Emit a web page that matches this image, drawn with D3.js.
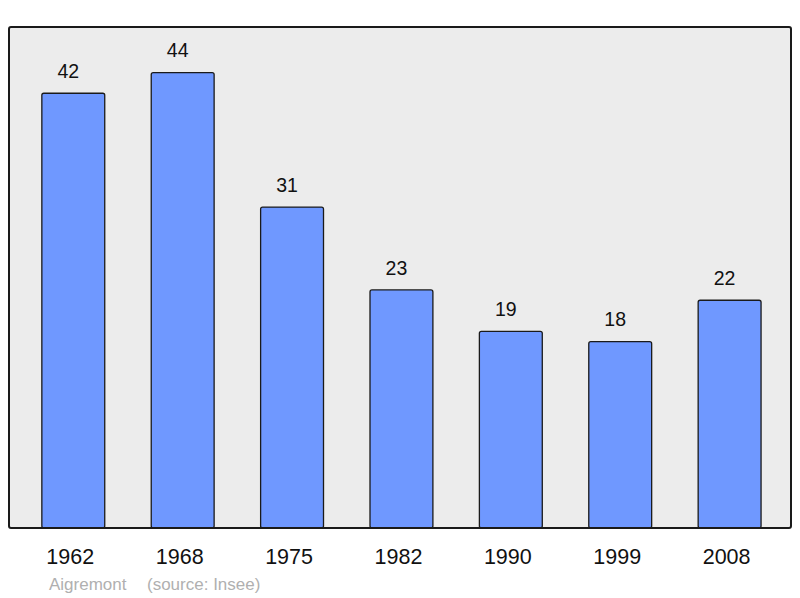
<!DOCTYPE html>
<html>
<head>
<meta charset="utf-8">
<script src="https://cdn.jsdelivr.net/npm/d3@7"></script>
<style>
  body { margin: 0; background: #fff; }
  text { font-family: "Liberation Sans", Arial, sans-serif; }
</style>
</head>
<body>
<div id="chart"></div>
<script>
var years = ['1962', '1968', '1975', '1982', '1990', '1999', '2008'];
var population = [42, 44, 31, 23, 19, 18, 22];
var commune = 'Aigremont';
var source = '(source: Insee)';

var width = 800,
	height = 598,
	frame = { left: 9, top: 27, right: 791, bottom: 528 };

var svg = d3.select('#chart').append('svg')
	.attr('width', width)
	.attr('height', height);

var xScale = d3.scaleBand()
	.domain(years)
	.range([18.6, 784.3])
	.paddingInner(0.425)
	.paddingOuter(0.2125);

var yScale = d3.scaleLinear()
	.domain([0, d3.max(population) * 1.1])
	.range([frame.bottom, frame.top]);

// grey plot area
svg.append('rect')
	.attr('x', frame.left)
	.attr('y', frame.top)
	.attr('width', frame.right - frame.left)
	.attr('height', frame.bottom - frame.top)
	.attr('rx', 2)
	.attr('fill', '#ececec');

var data = years.map(function(y, i) { return { year: y, value: population[i] }; });

svg.selectAll('rect.bar').data(data)
	.enter().append('rect')
	.attr('class', 'bar')
	.attr('x', (d) => xScale(d.year))
	.attr('y', (d) => yScale(d.value))
	.attr('width', xScale.bandwidth())
	.attr('height', (d) => yScale(0) - yScale(d.value))
	.attr('rx', 2)
	.attr('fill', '#6f98ff')
	.attr('stroke', '#1a1a1a')
	.attr('stroke-width', 1.3);

// value labels sit a little left of the bar centre in the original
svg.selectAll('text.val').data(data)
	.enter().append('text')
	.attr('class', 'val')
	.attr('x', (d) => xScale(d.year) + xScale.bandwidth() / 2 - 5)
	.attr('y', (d) => yScale(d.value) - 15.3)
	.attr('text-anchor', 'middle')
	.attr('font-size', 19.5)
	.attr('fill', '#111')
	.text((d) => d.value);

// frame on top of bars
svg.append('rect')
	.attr('x', frame.left)
	.attr('y', frame.top)
	.attr('width', frame.right - frame.left)
	.attr('height', frame.bottom - frame.top)
	.attr('rx', 2)
	.attr('fill', 'none')
	.attr('stroke', '#1a1a1a')
	.attr('stroke-width', 2);

var xAxis = d3.axisBottom(xScale).tickSize(0).tickPadding(0);
var xg = svg.append('g')
	.attr('transform', 'translate(-3,' + frame.bottom + ')')
	.call(xAxis);
xg.select('.domain').remove();
xg.selectAll('text')
	.attr('y', 36)
	.attr('dy', 0)
	.attr('font-size', 21.5)
	.attr('font-family', '"Liberation Sans", Arial, sans-serif')
	.attr('fill', '#111');

svg.append('text')
	.attr('x', 49)
	.attr('y', 590)
	.attr('font-size', 17)
	.attr('fill', '#b0b0b0')
	.text(commune);

svg.append('text')
	.attr('x', 147)
	.attr('y', 590)
	.attr('font-size', 17)
	.attr('fill', '#b0b0b0')
	.text(source);
</script>
</body>
</html>
